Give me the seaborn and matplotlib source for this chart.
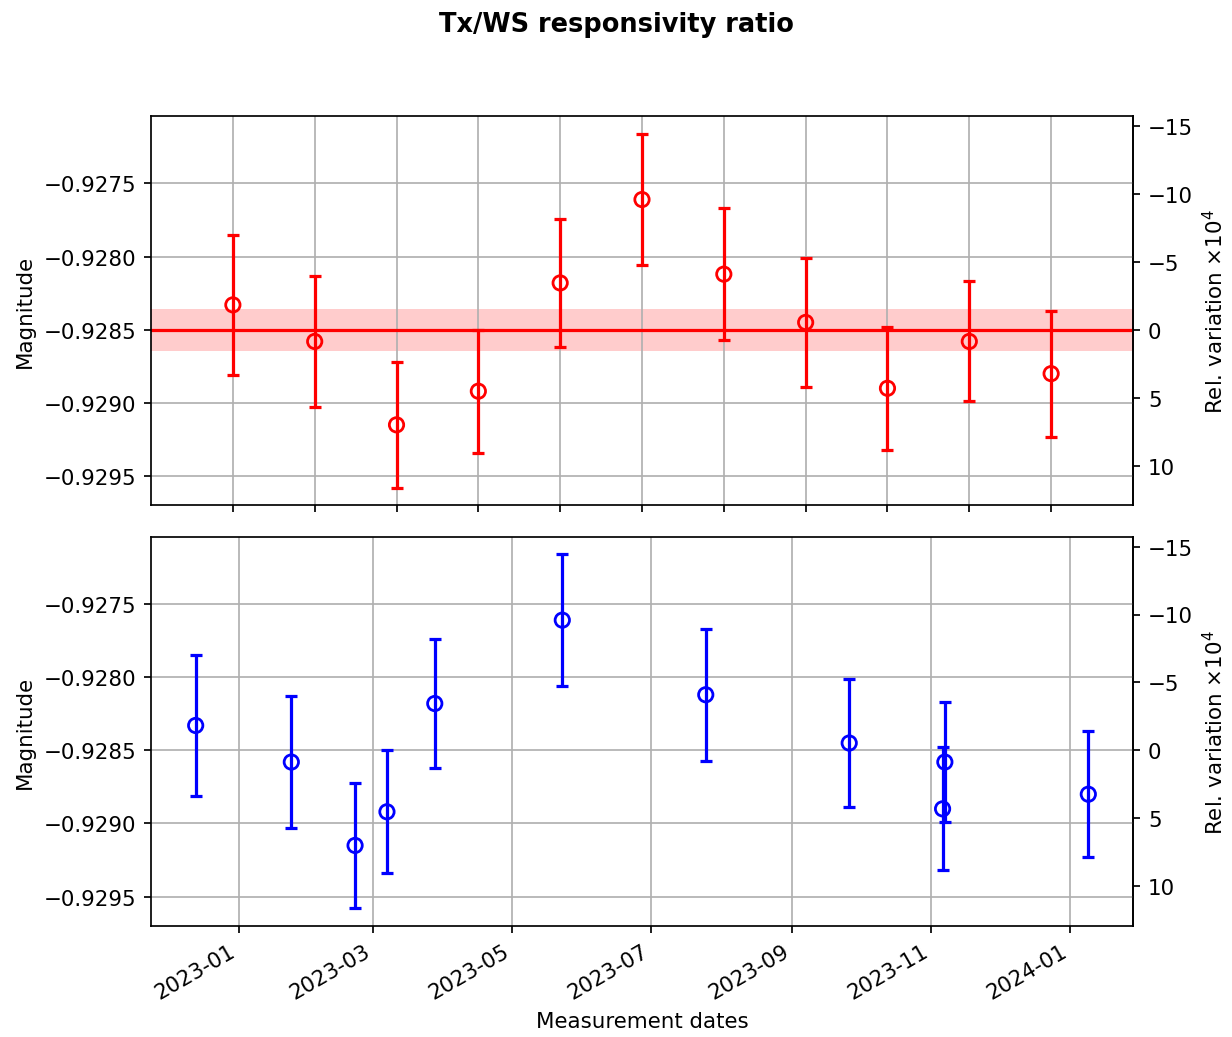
import numpy as np
import pandas as pd
import matplotlib
matplotlib.use("Agg")
import matplotlib.pyplot as plt
import matplotlib.dates as mdates
import seaborn as sns

dates = ["2022-12-13", "2023-01-24", "2023-02-21", "2023-03-07", "2023-03-28",
         "2023-05-23", "2023-07-25", "2023-09-26", "2023-11-06", "2023-11-07",
         "2024-01-09"]
ratio = [-0.92833, -0.92858, -0.92915, -0.92892, -0.92818, -0.92761,
         -0.92812, -0.92845, -0.92890, -0.92858, -0.92880]
ratio_err = [0.00048, 0.00045, 0.00043, 0.00042, 0.00044, 0.00045,
             0.00045, 0.00044, 0.00042, 0.00041, 0.00043]

# Reference value and its band
mean_ratio = -0.92850
band_halfwidth = 0.000143

data = pd.DataFrame({
    "date": pd.to_datetime(dates),
    "index": np.arange(1, len(dates) + 1),
    "ratio": ratio,
    "err": ratio_err,
})


def to_rel(y):
    return (np.asarray(y) / mean_ratio - 1) * 1e4


def from_rel(r):
    return mean_ratio * (1 + np.asarray(r) / 1e4)


fig, (ax1, ax2) = plt.subplots(2, 1, figsize=(8, 6.74), dpi=154)
fig.subplots_adjust(left=0.1226, right=0.9196, top=0.8873, bottom=0.1069, hspace=0.08)

# Top panel: by measurement index
ax1.axhspan(mean_ratio - band_halfwidth, mean_ratio + band_halfwidth, color="red", alpha=0.2, lw=0)
ax1.axhline(mean_ratio, color="red", linewidth=1.5)
ax1.errorbar(data["index"], data["ratio"], yerr=data["err"], fmt="none", ecolor="red",
             elinewidth=1.5, capsize=3, capthick=1.5)
sns.scatterplot(data=data, x="index", y="ratio", ax=ax1, marker="o", s=45,
                facecolor="none", edgecolor="red", linewidth=1.3, zorder=3)
ax1.set_xlim(0, len(dates) + 1)
ax1.set_xticks(data["index"])
ax1.set_xticklabels([])
ax1.set_xlabel("")
ax1.set_ylabel("Magnitude")
ax1.grid(True)
sec1 = ax1.secondary_yaxis("right", functions=(to_rel, from_rel))
sec1.set_ylabel("Rel. variation ×10$^4$")

# Bottom panel: by date
ax2.errorbar(data["date"], data["ratio"], yerr=data["err"], fmt="none", ecolor="blue",
             elinewidth=1.5, capsize=3, capthick=1.5)
sns.scatterplot(data=data, x="date", y="ratio", ax=ax2, marker="o", s=45,
                facecolor="none", edgecolor="blue", linewidth=1.3, zorder=3)
ax2.set_ylim(ax1.get_ylim())
ax2.xaxis.set_major_locator(mdates.MonthLocator(bymonth=[1, 3, 5, 7, 9, 11]))
ax2.xaxis.set_major_formatter(mdates.DateFormatter("%Y-%m"))
for lbl in ax2.get_xticklabels():
    lbl.set_rotation(30)
    lbl.set_ha("right")
ax2.set_xlabel("Measurement dates")
ax2.set_ylabel("Magnitude")
ax2.grid(True)
sec2 = ax2.secondary_yaxis("right", functions=(to_rel, from_rel))
sec2.set_ylabel("Rel. variation ×10$^4$")

fig.suptitle("Tx/WS responsivity ratio", fontweight="bold", y=0.988)

fig.savefig("out.png", dpi=154)
